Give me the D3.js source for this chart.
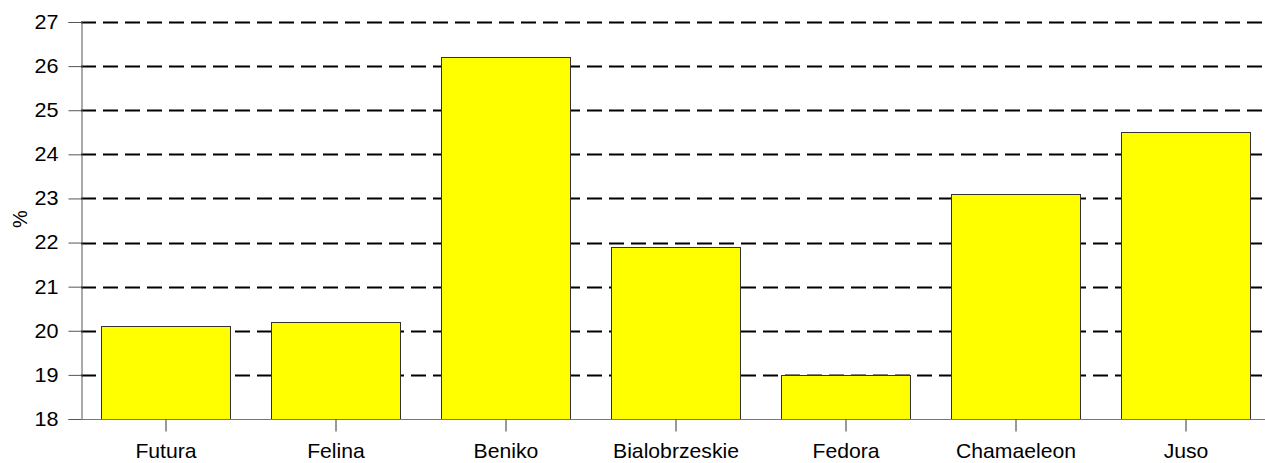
<!DOCTYPE html>
<html><head><meta charset="utf-8">
<script src="https://cdn.jsdelivr.net/npm/d3@7"></script>
<style>body{margin:0;background:#fff}svg{display:block}</style>
</head><body>
<svg id="c" width="1265" height="463"></svg>
<script>
const categories = ["Futura","Felina","Beniko","Bialobrzeskie","Fedora","Chamaeleon","Juso"];
const values = [20.1, 20.2, 26.2, 21.9, 19.0, 23.1, 24.5];
const yTicks = [18,19,20,21,22,23,24,25,26,27];
const yLabel = "%";

const svg = d3.select("#c");
const font = "Liberation Sans, Arial, sans-serif";
const x = d3.scaleBand().domain(categories).range([81, 1271]).paddingInner(0.24).paddingOuter(0.12);
const y = d3.scaleLinear().domain([18, 27]).range([419, 22]);

// gridlines
svg.append("g").selectAll("line").data(yTicks.filter(d => d > 18)).join("line")
  .attr("x1", 81).attr("x2", 1265)
  .attr("y1", d => Math.round(y(d)) + 0.5).attr("y2", d => Math.round(y(d)) + 0.5)
  .attr("stroke", "#000").attr("stroke-width", 2).attr("stroke-dasharray", "15,7");

// bars
svg.append("g").selectAll("rect").data(categories).join("rect")
  .attr("x", d => Math.round(x(d)) + 0.5)
  .attr("y", (d, i) => Math.round(y(values[i])) + 0.5)
  .attr("width", Math.round(x.bandwidth()))
  .attr("height", (d, i) => Math.round(y(18)) - Math.round(y(values[i])))
  .attr("fill", "#ffff00").attr("stroke", "#333").attr("stroke-width", 1);

// y axis
const ya = svg.append("g").attr("transform", "translate(81.5,0)")
  .call(d3.axisLeft(y).tickValues(yTicks).tickSize(13).tickPadding(10).tickFormat(d3.format("d")));
ya.select(".domain").attr("stroke", "#555");
ya.selectAll(".tick line").attr("stroke", "#555");
ya.selectAll("text").attr("font-family", font).attr("font-size", 20).attr("fill", "#000")
  .attr("transform", "scale(1.08,1)").attr("x", -23 / 1.08);

// x axis
const xa = svg.append("g").attr("transform", "translate(0,419.5)")
  .call(d3.axisBottom(x).tickSize(12).tickPadding(12).tickSizeOuter(0));
xa.select(".domain").attr("stroke", "#777").attr("d", "M81,0H1265");
xa.selectAll(".tick line").attr("stroke", "#333");
xa.selectAll("text").attr("font-family", font).attr("font-size", 20).attr("fill", "#000")
  .attr("transform", "scale(1.06,1)");

// y label
svg.append("text").attr("transform", "translate(27,219) rotate(-90)")
  .attr("text-anchor", "middle").attr("font-family", font).attr("font-size", 20).text(yLabel);
</script>
</body></html>
